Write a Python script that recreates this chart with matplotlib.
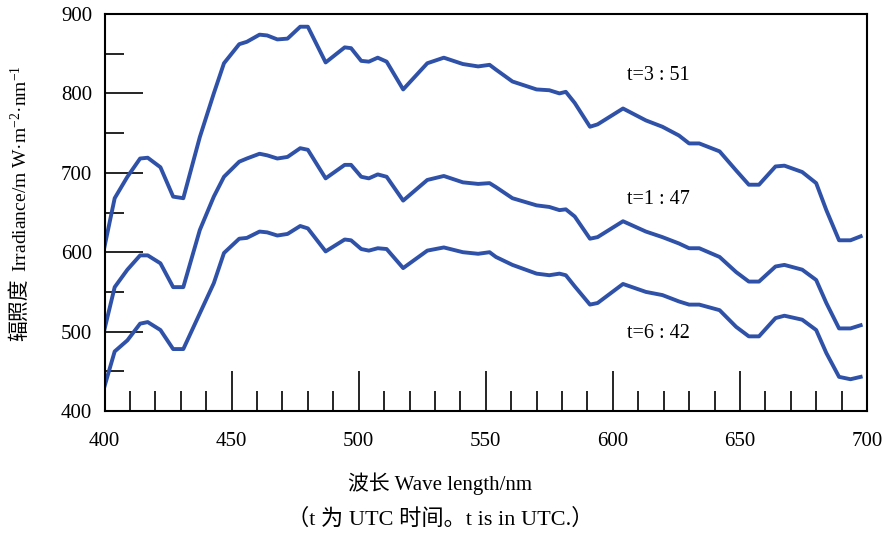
import matplotlib
matplotlib.use("Agg")
import matplotlib.pyplot as plt
from matplotlib.ticker import MultipleLocator

plt.rcParams['mathtext.fontset'] = 'custom'
plt.rcParams['mathtext.rm'] = 'Liberation Serif'
plt.rcParams['mathtext.it'] = 'Liberation Serif:italic'
plt.rcParams['mathtext.bf'] = 'Liberation Serif:bold'
FAM = ['Liberation Serif', 'DejaVu Serif', 'Noto Sans CJK SC']

# Wavelength samples (nm)
wavelength = [400, 404, 409, 414, 417, 422, 427, 431, 437.5, 443, 447, 453, 456, 461,
              464, 468, 472, 477, 480, 487, 494.5, 497, 501, 504, 507.5, 511, 517.5,
              527, 533.5, 541, 547, 551.5, 554, 560.5, 570, 575, 579, 581.5, 585,
              591, 594, 604, 613, 619.5, 626, 630, 634, 642, 648.5, 653.5, 657.5,
              664, 667.5, 674.5, 680, 684, 689, 693.5, 697.5]

# Irradiance (mW·m^-2·nm^-1)
irr_0351 = [607, 668, 695, 718, 719, 707, 670, 668, 745, 800, 838, 862, 865, 874,
            873, 868, 869, 884, 884, 839, 858, 857, 841, 840, 845, 840, 805,
            838, 845, 837, 834, 836, 830, 815, 805, 804, 800, 802, 788,
            758, 761, 781, 766, 758, 747, 737, 737, 727, 703, 685, 685,
            708, 709, 701, 687, 653, 615, 615, 620]

irr_0147 = [503, 556, 578, 596, 596, 586, 556, 556, 628, 670, 695, 714, 718, 724,
            722, 718, 720, 731, 729, 693, 710, 710, 695, 693, 698, 695, 665,
            691, 696, 688, 686, 687, 682, 668, 659, 657, 653, 654, 645,
            617, 619, 639, 626, 619, 611, 605, 605, 594, 575, 563, 563,
            582, 584, 578, 565, 536, 504, 504, 508]

irr_0642 = [431, 475, 489, 510, 512, 502, 478, 478, 523, 561, 599, 617, 618, 626,
            625, 621, 623, 633, 630, 601, 616, 615, 604, 602, 605, 604, 580,
            602, 606, 600, 598, 600, 594, 584, 573, 571, 573, 571, 557,
            534, 536, 560, 550, 546, 538, 534, 534, 527, 506, 494, 494,
            517, 520, 515, 502, 473, 443, 440, 443]

series_labels = ['t=3 : 51', 't=1 : 47', 't=6 : 42']
label_pos = [(618, 822), (618, 666), (618, 497)]

W, H = 882, 533
fig = plt.figure(figsize=(W / 100, H / 100), dpi=100)
ax = fig.add_axes([0.1185, 0.2289, 0.8645, 0.7448])

color = '#2f52a8'
for y in (irr_0351, irr_0147, irr_0642):
    ax.plot(wavelength, y, color=color, lw=2.8, solid_joinstyle='round')

for txt, (x, y) in zip(series_labels, label_pos):
    ax.text(x, y, txt, ha='center', va='center', fontsize=14.5, family=FAM)

ax.set_xlim(400, 700)
ax.set_ylim(400, 900)
ax.xaxis.set_major_locator(MultipleLocator(50))
ax.xaxis.set_minor_locator(MultipleLocator(10))
ax.yaxis.set_major_locator(MultipleLocator(100))
ax.yaxis.set_minor_locator(MultipleLocator(50))

ax.tick_params(axis='both', which='both', direction='in', top=False, right=False,
               width=1.2, color='black')
ax.tick_params(axis='x', which='major', length=29, pad=15, labelsize=15)
ax.tick_params(axis='x', which='minor', length=14.4)
ax.tick_params(axis='y', which='major', length=27, pad=9, labelsize=15)
ax.tick_params(axis='y', which='minor', length=13.7)
for lab in ax.get_xticklabels() + ax.get_yticklabels():
    lab.set_family(FAM)

for s in ax.spines.values():
    s.set_linewidth(1.5)

ax.set_xlabel('波长 Wave length/nm', fontsize=15, family=FAM)
ax.xaxis.set_label_coords(0.44, -0.154)

# y-axis title: Chinese part, then the Latin part with unit exponents
ylab_x = 20 / W
fig.text(ylab_x, 1 - 341 / H, '辐照度', rotation=90, rotation_mode='anchor',
         ha='left', va='center', fontsize=15, family=FAM)
fig.text(ylab_x, 1 - 272 / H, r'Irradiance/m W·m$^{-2}$·nm$^{-1}$', rotation=90,
         rotation_mode='anchor', ha='left', va='center', fontsize=14,
         family='Liberation Serif')

fig.text(0.499, 1 - 519 / H, '（t 为 UTC 时间。t is in UTC.）', ha='center',
         va='center', fontsize=16, family=FAM)

fig.savefig('out.png', dpi=100)
